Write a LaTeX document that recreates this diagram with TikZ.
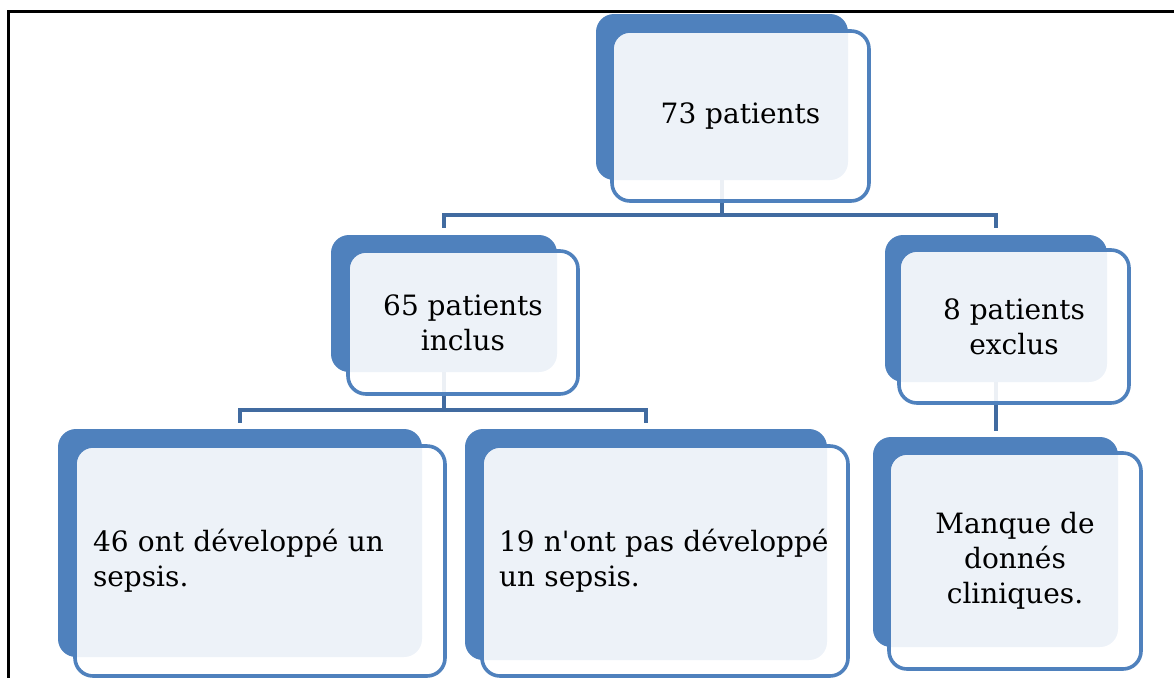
\documentclass[tikz,border=0pt]{standalone}
\usepackage{fontspec}
\setmainfont{DejaVu Serif}
\usetikzlibrary{positioning}
\definecolor{plate colour}{RGB}{79,129,189}
\definecolor{link colour}{RGB}{65,107,160}
\tikzset{
    % Solid plate that sits behind every card
    plate/.style={
        rectangle, rounded corners=18pt, fill=plate colour, inner sep=0},
%
    % The card itself, see-through so the plate shows as a light tint
    card/.style={
        rectangle, rounded corners=18pt, draw=plate colour, line width=3.6pt,
        fill=white, fill opacity=0.9, text opacity=1, inner sep=0,
        font=\fontsize{28}{35}\selectfont, align=center},
    left card/.style={card, align=left, text width=#1},
%
    % Elbow lines between the levels
    link/.style={draw=link colour, line width=4pt},
    frame/.style={draw=black, line width=2.7pt},
}
\pgfdeclarelayer{background}
\pgfsetlayers{background,main}

\begin{document}
\begin{tikzpicture}[x=1pt, y=-1pt]
\useasboundingbox (0,0) rectangle (1174,678);

\draw [frame] (1174,11.3) -- (8.7,11.3) -- (8.7,678);

% plates
\path
    (722,97) node [plate, minimum width=252pt, minimum height=166pt] (total-b) {}
    (444,303.5) node [plate, minimum width=226pt, minimum height=137pt] (incl-b) {}
    (996,308.5) node [plate, minimum width=222pt, minimum height=147pt] (excl-b) {}
    (240,543) node [plate, minimum width=364pt, minimum height=228pt] (sepsis-b) {}
    (646,544.5) node [plate, minimum width=362pt, minimum height=231pt] (nosepsis-b) {}
    (995.5,542) node [plate, minimum width=245pt, minimum height=210pt] (missing-b) {};

% cards
\path
    (740.5,116) node [card, minimum width=257pt, minimum height=170pt] (total) {73 patients}
    (463,322.5) node [card, minimum width=230pt, minimum height=143pt] (incl) {65 patients\\inclus}
    (1014,326.5) node [card, minimum width=230pt, minimum height=153pt] (excl) {8 patients\\exclus}
    (260,561) node [left card=334pt, minimum width=370pt, minimum height=230pt] (sepsis)
        {46 ont développé un\\sepsis.}
    (665,561) node [left card=332pt, minimum width=366pt, minimum height=230pt] (nosepsis)
        {19 n\textquotesingle ont pas développé\\un sepsis.}
    (1015,561) node [card, minimum width=252pt, minimum height=216pt] (missing)
        {Manque de\\donnés\\cliniques.};

\begin{pgfonlayer}{background}
\coordinate (split-a) at (722,215);
\coordinate (split-b) at (444,410);
\draw [link] (total-b.center) -- (split-a);
\draw [link] ([yshift=7pt]incl-b.north) |- (split-a) -| ([yshift=7pt]excl-b.north);
\draw [link] (incl-b.center) -- (split-b);
\draw [link] ([yshift=6pt]sepsis-b.north) |- (split-b) -| ([yshift=6pt]nosepsis-b.north);
\draw [link] (excl-b.center) -- ([yshift=6pt]excl-b.center |- missing-b.north);
\end{pgfonlayer}

\end{tikzpicture}
\end{document}
